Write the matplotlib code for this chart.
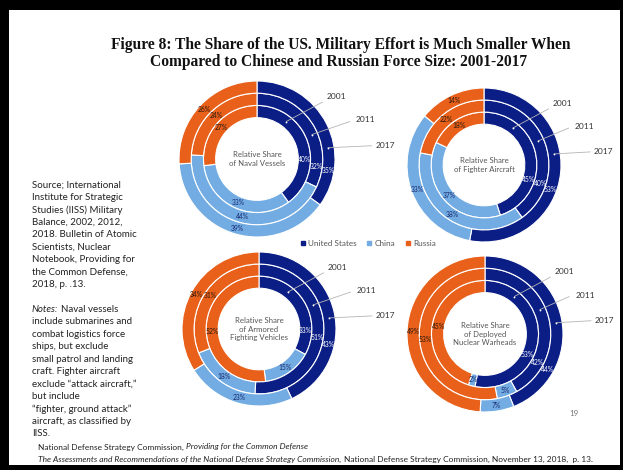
import matplotlib.pyplot as plt
from matplotlib.patches import Rectangle
from matplotlib.lines import Line2D
import numpy as np

# rings go inner -> outer
years = ["2001", "2011", "2017"]
countries = ["United States", "China", "Russia"]

naval_us = [40, 32, 35]
naval_china = [33, 44, 39]
naval_russia = [27, 24, 26]

fighter_us = [45, 40, 53]
fighter_china = [37, 38, 33]
fighter_russia = [18, 22, 14]

armor_us = [33, 51, 43]
armor_china = [15, 18, 23]
armor_russia = [52, 31, 34]

nuke_us = [53, 42, 44]
nuke_china = [2, 5, 7]
nuke_russia = [45, 53, 49]

colors = ["#0b1e86", "#72ace2", "#e8601a"]
label_colors = ["white", "#1a2a70", "#2a1a10"]

W, H = 623, 470
fig = plt.figure(figsize=(W / 100, H / 100), dpi=100)
fig.patch.set_facecolor("black")
fig.add_artist(Rectangle((9 / W, 1 - 465 / H), 611 / W, 455 / H,
                         transform=fig.transFigure, facecolor="white",
                         edgecolor="none", zorder=-5))


def px(x, y):
    return x / W, 1 - y / H


hole = 0.53
rw = (1 - hole) / 3


def donut(cx, cy, R, us, china, russia, center_text, us_angles, squeeze=0.0):
    left, right, down, up = 1.12, 1.85, 1.12, 1.12
    x0, y0 = px(cx - left * R, cy + down * R)
    ax = fig.add_axes([x0, y0, (left + right) * R / W, (down + up) * R / H])
    ax.axis("off")
    for i in range(3):
        vals = [us[i], china[i], russia[i]]
        r_out = hole + rw * (i + 1)
        ax.pie(vals, radius=r_out, colors=colors, startangle=90,
               counterclock=False, normalize=True,
               wedgeprops=dict(width=rw, edgecolor="white", linewidth=0.8))
        r_mid = r_out - rw / 2
        cum = np.cumsum([0] + vals) / sum(vals) * 360
        for j, v in enumerate(vals):
            phi = us_angles[i] if j == 0 else (cum[j] + cum[j + 1]) / 2
            a = np.deg2rad(90 - phi)
            ax.text(r_mid * np.cos(a), r_mid * np.sin(a), f"{v}%",
                    ha="center", va="center", fontsize=4.9,
                    color=label_colors[j], family="Lato")
    ax.set_xlim(-left, right)
    ax.set_ylim(-down, up)
    ax.set_aspect("auto")
    ax.text(0, 0, center_text, ha="center", va="center", fontsize=5.6,
            color="#555555", family="Lato", linespacing=1.25)
    # year leader lines
    dots = [(0.61, 52), (0.77, 24), (0.92, 9)]
    ends = [(0.84, 0.73), (1.19 - squeeze, 0.48), (1.47 - squeeze, 0.17)]
    texts = [(0.89, 0.80), (1.27 - squeeze, 0.50), (1.52 - squeeze, 0.17)]
    for (r, deg), (ex, ey), (tx, ty), yr in zip(dots, ends, texts, years):
        a = np.deg2rad(deg)
        ax.plot([r * np.cos(a), ex], [r * np.sin(a), ey], color="#b5b5b5",
                lw=0.6, solid_capstyle="round")
        ax.plot(r * np.cos(a), r * np.sin(a), "o", ms=1.3, color="white",
                mec="none")
        ax.text(tx, ty, yr, ha="left", va="center", fontsize=6.0,
                color="#333333", family="Lato")


donut(257, 159, 78, naval_us, naval_china, naval_russia,
      "Relative Share\nof Naval Vessels", [91, 97, 99])
donut(484, 165, 77, fighter_us, fighter_china, fighter_russia,
      "Relative Share\nof Fighter Aircraft", [108, 108, 110], squeeze=0.09)
donut(259, 329, 77, armor_us, armor_china, armor_russia,
      "Relative Share\nof Armored\nFighting Vehicles", [92, 98, 103])
donut(485, 334, 78, nuke_us, nuke_china, nuke_russia,
      "Relative Share\nof Deployed\nNuclear Warheads", [116, 118, 120],
      squeeze=0.11)

# legend
handles = [Line2D([], [], marker="s", ls="none", ms=3.0, color=c)
           for c in colors]
leg = fig.legend(handles, countries, loc="center", ncol=3,
                 bbox_to_anchor=px(368, 243), frameon=False,
                 prop={"family": "Lato", "size": 5.9}, handlelength=0.6,
                 handletextpad=0.3, columnspacing=1.3)
for t in leg.get_texts():
    t.set_color("#555555")

# title
title_kw = dict(ha="center", va="center", fontsize=11.2, fontweight="bold",
                family="Liberation Serif", color="#111111")
fig.text(*px(341, 45),
         "Figure 8: The Share of the US. Military Effort is Much Smaller When",
         **title_kw)
fig.text(*px(339, 62),
         "Compared to Chinese and Russian Force Size: 2001-2017", **title_kw)

renderer = fig.canvas.get_renderer()


def seg_text(x, y, parts, gap=2.0, **kw):
    for s, style in parts:
        t = fig.text(x / W, 1 - y / H, s, style=style, va="center", **kw)
        x += t.get_window_extent(renderer=renderer).width + gap


source_lines = [
    "Source; International",
    "Institute for Strategic",
    "Studies (IISS) Military",
    "Balance, 2002, 2012,",
    "2018. Bulletin of Atomic",
    "Scientists, Nuclear",
    "Notebook, Providing for",
    "the Common Defense,",
    "2018, p. .13.",
]
note_lines = [
    "include submarines and",
    "combat logistics force",
    "ships, but exclude",
    "small patrol and landing",
    "craft. Fighter aircraft",
    "exclude \u201cattack aircraft,\u201d",
    "but include",
    "\u201cfighter, ground attack\u201d",
    "aircraft, as classified by",
    "IISS.",
]
body = dict(fontsize=7.0, family="Lato", color="#222222")
step = 12.45
y = 185
for line in source_lines:
    fig.text(32 / W, 1 - y / H, line, va="center", **body)
    y += step
y += step
seg_text(32, y, [("Notes:", "italic"), ("Naval vessels", "normal")],
         gap=2.4, **body)
y += step
for line in note_lines:
    fig.text(32 / W, 1 - y / H, line, va="center", **body)
    y += step

foot = dict(fontsize=6.0, family="Lato", color="#222222")
seg_text(38, 447, [("National Defense Strategy Commission,", "normal"),
                   ("Providing for the Common Defense", "italic")],
         gap=2.0, **foot)
seg_text(38, 459, [("The Assessments and Recommendations of the National "
                    "Defense Strategy Commission,", "italic"),
                   ("National Defense Strategy Commission, November 13, "
                    "2018,  p. 13.", "normal")], gap=2.4, **foot)

fig.text(*px(574, 413), "19", ha="center", va="center", fontsize=5.8,
         family="Lato", color="#777777")

fig.savefig("out.png", dpi=100, facecolor=fig.get_facecolor())
